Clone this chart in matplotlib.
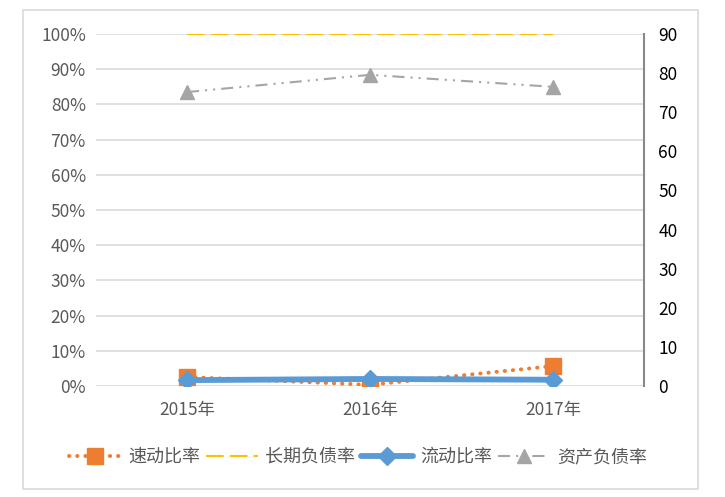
import matplotlib
matplotlib.use("Agg")
import matplotlib.pyplot as plt
from matplotlib.patches import Rectangle
from matplotlib.lines import Line2D

plt.rcParams['font.family'] = ['Noto Sans CJK SC', 'DejaVu Sans']

years = ["2015年", "2016年", "2017年"]
quick_ratio = [2.3, 0.3, 5.1]          # 速动比率 (right axis)
long_debt = [1.00, 1.00, 1.00]         # 长期负债率 (left axis)
current_ratio = [1.5, 1.8, 1.6]        # 流动比率 (right axis)
asset_debt = [0.835, 0.884, 0.85]      # 资产负债率 (left axis)
left_ticks = [i / 10 for i in range(11)]
right_ticks = list(range(0, 100, 10))

W, H = 725, 497
fig = plt.figure(figsize=(W / 100, H / 100), dpi=100)
fig.patches.append(Rectangle((23 / W, 1 - 489 / H), 675 / W, 479 / H,
                             transform=fig.transFigure, fill=False,
                             edgecolor='#D9D9D9', lw=1.2))

ax = fig.add_axes([95.5 / W, (H - 386) / H, 549 / W, 352 / H])
ax2 = ax.twinx()
x = list(range(len(years)))

ax.set_xlim(-0.5, 2.5)
ax.set_ylim(0, 1)
ax.set_yticks(left_ticks)
ax.set_yticklabels([f"{int(round(t * 100))}%" for t in left_ticks])
ax.yaxis.grid(True, color='#DADDE2', lw=1.3)
ax.set_axisbelow(True)
for s in ax.spines.values():
    s.set_visible(False)
ax.tick_params(axis='y', length=0, pad=7, labelsize=12.5, labelcolor='#595959')
ax.set_xticks(x)
ax.set_xticklabels(years)
ax.tick_params(axis='x', length=0, pad=11, labelsize=12.5, labelcolor='#595959')

ax2.set_ylim(0, 90)
ax2.set_yticks(right_ticks)
for k, s in ax2.spines.items():
    s.set_visible(k == 'right')
ax2.spines['right'].set_color('#898989')
ax2.spines['right'].set_linewidth(1.5)
ax2.tick_params(axis='y', length=0, pad=10, labelsize=12.5, labelcolor='#000000')

# left-axis series
ax.plot(x, long_debt, color='#FFC000', lw=1.5, linestyle=(0, (8.5, 2.9)), zorder=3)
ax.plot(x, asset_debt, color='#A5A5A5', lw=1.5,
        linestyle=(0, (5.8, 2.9, 1, 2.9, 1, 2.9)),
        marker='^', ms=9.5, markeredgecolor='#A5A5A5', markerfacecolor='#A5A5A5', zorder=3)

# right-axis series
ax2.plot(x, quick_ratio, color='#ED7D31', lw=2.8, linestyle=(0, (0.1, 2.0)),
         dash_capstyle='round', marker='s', ms=11,
         markeredgecolor='#ED7D31', markerfacecolor='#ED7D31', zorder=3)
ax2.plot(x, current_ratio, color='#5B9BD5', lw=4.2, solid_capstyle='round',
         marker='D', ms=9.5, markeredgecolor='#5B9BD5', markerfacecolor='#5B9BD5', zorder=4)

handles = [
    Line2D([], [], color='#ED7D31', lw=2.8, linestyle=(0, (0.1, 2.0)), dash_capstyle='round',
           marker='s', ms=11, markerfacecolor='#ED7D31', markeredgecolor='#ED7D31'),
    Line2D([], [], color='#FFC000', lw=1.5, linestyle=(0, (8.5, 2.9))),
    Line2D([], [], color='#5B9BD5', lw=4.2, solid_capstyle='round',
           marker='D', ms=9.5, markerfacecolor='#5B9BD5', markeredgecolor='#5B9BD5'),
    Line2D([], [], color='#A5A5A5', lw=1.5, linestyle=(0, (5.8, 2.9, 1, 2.9, 1, 2.9)),
           marker='^', ms=9.5, markerfacecolor='#A5A5A5', markeredgecolor='#A5A5A5'),
]
labels = ["速动比率", "长期负债率", "流动比率", "资产负债率"]
leg = fig.legend(handles, labels, loc='center', bbox_to_anchor=(358 / W, 1 - 457 / H),
                 ncol=4, frameon=False, fontsize=13, handlelength=2.9,
                 handletextpad=0.4, columnspacing=0.3, labelcolor='#595959')

fig.savefig("out.png", dpi=100)
